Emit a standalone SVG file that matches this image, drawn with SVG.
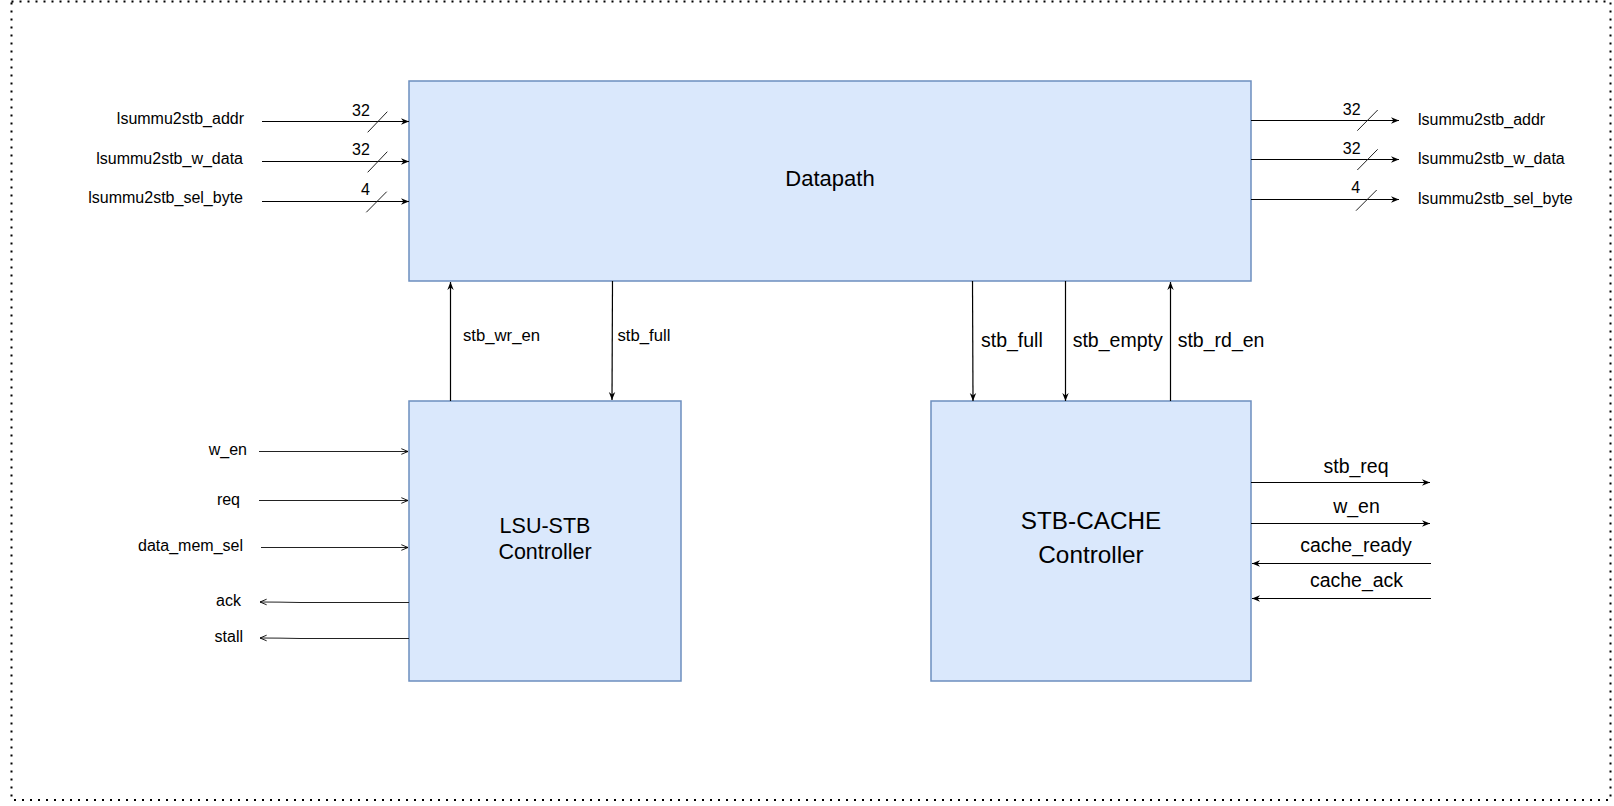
<svg xmlns="http://www.w3.org/2000/svg" width="1614" height="806" viewBox="0 0 1614 806">
<style>
text{font-family:"Liberation Sans",Arial,sans-serif;fill:#000}
.box{fill:#dae8fc;stroke:#6c8ebf;stroke-width:1.5}
.w{stroke:#000;stroke-width:1.2;fill:none}
.ws{stroke:#222;stroke-width:1;fill:none}
.s16{font-size:16px}
.s17{font-size:16.7px}
.s19{font-size:19.5px}
.e{text-anchor:end}
.m{text-anchor:middle}
</style>
<defs>
<marker id="cl" viewBox="0 0 10 10" refX="10" refY="5" markerWidth="9" markerHeight="8" orient="auto" markerUnits="userSpaceOnUse">
<path d="M0,1 L10,5 L0,9 L3,5 Z" fill="#000"/>
</marker>
<marker id="op" viewBox="0 0 10 10" refX="9.5" refY="5" markerWidth="7" markerHeight="9" orient="auto" markerUnits="userSpaceOnUse">
<path d="M0,1 L9.5,5 L0,9" fill="none" stroke="#000" stroke-width="1.3"/>
</marker>
</defs>
<rect id="frame" x="11.5" y="1.5" width="1599" height="798.5" fill="none" stroke="#000" stroke-width="2" stroke-dasharray="2 6"/>

<g id="datapath">
<rect class="box" x="409" y="81" width="842" height="200"/>
<text class="m" x="830" y="186" font-size="22">Datapath</text>
</g>
<g id="lsu-stb">
<rect class="box" x="409" y="401" width="272" height="280"/>
<text class="m" x="545" y="533" font-size="21.5">LSU-STB</text>
<text class="m" x="545" y="558.5" font-size="21.5">Controller</text>
</g>
<g id="stb-cache">
<rect class="box" x="931" y="401" width="320" height="280"/>
<text class="m" x="1091" y="529" font-size="24.3">STB-CACHE</text>
<text class="m" x="1091" y="562.5" font-size="24.3">Controller</text>
</g>

<g id="connectors">
<line class="w" x1="262" y1="121.5" x2="409" y2="121.5" marker-end="url(#cl)"/>
<line class="w" x1="262" y1="161.5" x2="409" y2="161.5" marker-end="url(#cl)"/>
<line class="w" x1="262" y1="201.5" x2="409" y2="201.5" marker-end="url(#cl)"/>
<line class="ws" x1="367.7" y1="132.3" x2="387.3" y2="111.7"/>
<line class="ws" x1="367.7" y1="172.3" x2="387.3" y2="151.7"/>
<line class="ws" x1="366.3" y1="212.3" x2="386.7" y2="191.7"/>
<line class="w" x1="1251" y1="120.5" x2="1399" y2="120.5" marker-end="url(#cl)"/>
<line class="w" x1="1251" y1="159.5" x2="1399" y2="159.5" marker-end="url(#cl)"/>
<line class="w" x1="1251" y1="199.5" x2="1399" y2="199.5" marker-end="url(#cl)"/>
<line class="ws" x1="1357.3" y1="130.7" x2="1377.7" y2="110"/>
<line class="ws" x1="1357.3" y1="170" x2="1377.7" y2="149.3"/>
<line class="ws" x1="1356" y1="210.7" x2="1376.7" y2="190"/>
<line class="w" x1="450.5" y1="401" x2="450.5" y2="282" marker-end="url(#cl)"/>
<line class="w" x1="612.5" y1="281" x2="612" y2="400" marker-end="url(#cl)"/>
<line class="w" x1="972.5" y1="281" x2="973" y2="401" marker-end="url(#cl)"/>
<line class="w" x1="1065.5" y1="281" x2="1065.5" y2="401" marker-end="url(#cl)"/>
<line class="w" x1="1170.5" y1="401" x2="1170.5" y2="282" marker-end="url(#cl)"/>
<line class="ws" x1="259" y1="451.5" x2="408" y2="451.5" marker-end="url(#op)"/>
<line class="ws" x1="259" y1="500.5" x2="408" y2="500.5" marker-end="url(#op)"/>
<line class="ws" x1="261" y1="547.5" x2="408" y2="547.5" marker-end="url(#op)"/>
<path class="ws" d="M409,602.5 L300,602.5 Q280,602 260,602" marker-end="url(#op)"/>
<path class="ws" d="M409,638.5 L300,638.5 Q280,638 260,638" marker-end="url(#op)"/>
<line class="w" x1="1251" y1="482.5" x2="1430" y2="482.5" marker-end="url(#cl)"/>
<line class="w" x1="1251" y1="523.5" x2="1430" y2="523.5" marker-end="url(#cl)"/>
<line class="w" x1="1431" y1="563.5" x2="1252" y2="563.5" marker-end="url(#cl)"/>
<line class="w" x1="1431" y1="598.5" x2="1252" y2="598.5" marker-end="url(#cl)"/>
</g>

<g id="labels">
<text class="s16 e" x="244" y="124">lsummu2stb_addr</text>
<text class="s16 e" x="243" y="164">lsummu2stb_w_data</text>
<text class="s16 e" x="243" y="203">lsummu2stb_sel_byte</text>
<text class="s16 m" x="361" y="115.5">32</text>
<text class="s16 m" x="361" y="155">32</text>
<text class="s16 m" x="365.5" y="195">4</text>
<text class="s16 m" x="1351.7" y="115">32</text>
<text class="s16 m" x="1351.7" y="154.3">32</text>
<text class="s16 m" x="1355.7" y="193.3">4</text>
<text class="s16" x="1418" y="125">lsummu2stb_addr</text>
<text class="s16" x="1418" y="164">lsummu2stb_w_data</text>
<text class="s16" x="1418" y="203.5">lsummu2stb_sel_byte</text>
<text class="s17" x="463" y="341">stb_wr_en</text>
<text class="s17" x="617.5" y="341">stb_full</text>
<text class="s19" x="981" y="347.3">stb_full</text>
<text class="s19" x="1072.7" y="347.3">stb_empty</text>
<text class="s19" x="1177.7" y="347.3">stb_rd_en</text>
<text class="s16 e" x="247" y="455">w_en</text>
<text class="s16 e" x="240" y="505">req</text>
<text class="s16 e" x="243" y="550.7">data_mem_sel</text>
<text class="s16 e" x="241" y="606">ack</text>
<text class="s16 e" x="243" y="642.3">stall</text>
<text class="s19 m" x="1356" y="472.7">stb_req</text>
<text class="s19 m" x="1356.5" y="512.7">w_en</text>
<text class="s19 m" x="1356" y="551.7">cache_ready</text>
<text class="s19 m" x="1356.5" y="586.7">cache_ack</text>
</g>
</svg>
